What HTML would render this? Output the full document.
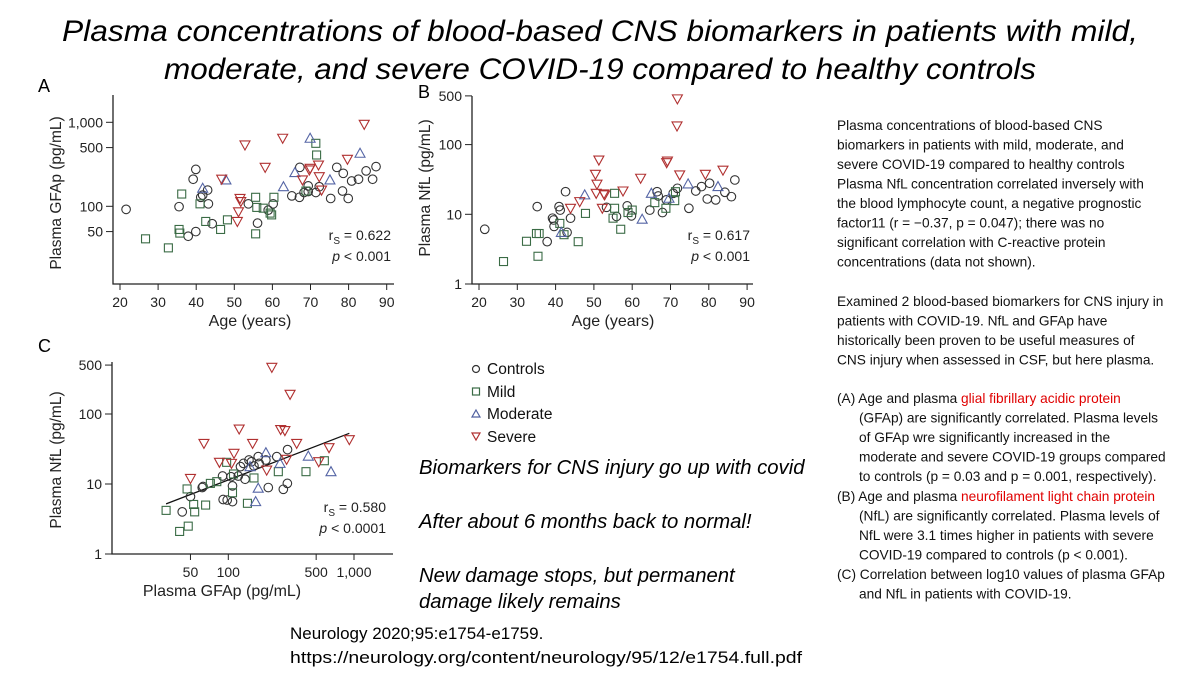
<!DOCTYPE html>
<html><head><meta charset="utf-8"><style>
html,body{margin:0;padding:0;background:#fff;}
svg{display:block;font-family:"Liberation Sans",sans-serif;}
</style></head><body>
<svg id="s" width="1200" height="675" viewBox="0 0 1200 675">
<g font-style="italic" font-size="30" text-anchor="middle" fill="#000">
<text x="600" y="41" textLength="1076" lengthAdjust="spacingAndGlyphs">Plasma concentrations of blood-based CNS biomarkers in patients with mild,</text>
<text x="600" y="79" textLength="872" lengthAdjust="spacingAndGlyphs">moderate, and severe COVID-19 compared to healthy controls</text>
</g>
<g font-size="18" fill="#000">
<text x="38" y="92">A</text>
<text x="418" y="98">B</text>
<text x="38" y="352">C</text>
</g>
<g id="pa"></g>
<g id="pb"></g>
<g id="pc"></g>
<g font-size="15.5" fill="#111">
<circle cx="476" cy="369" r="3.5" fill="none" stroke="#333" stroke-width="1.2"/>
<text x="487" y="374">Controls</text>
<rect x="472.5" y="388" width="7" height="7" fill="none" stroke="#3a6b45" stroke-width="1.2"/>
<text x="487" y="397">Mild</text>
<path d="M476,410 L480,417 L472,417 Z" fill="none" stroke="#5060a0" stroke-width="1.2"/>
<text x="487" y="419">Moderate</text>
<path d="M472,433 L480,433 L476,440 Z" fill="none" stroke="#b03030" stroke-width="1.2"/>
<text x="487" y="442">Severe</text>
</g>
<g font-style="italic" font-size="20.3" fill="#000">
<text x="419" y="474">Biomarkers for CNS injury go up with covid</text>
<text x="419" y="528">After about 6 months back to normal!</text>
<text x="419" y="582">New damage stops, but permanent</text>
<text x="419" y="608">damage likely remains</text>
</g>
<g font-size="17" fill="#000">
<text x="290" y="639">Neurology 2020;95:e1754-e1759.</text>
<text x="290" y="663" textLength="512" lengthAdjust="spacingAndGlyphs">https://neurology.org/content/neurology/95/12/e1754.full.pdf</text>
</g>
<g font-size="13.7" fill="#111">
<text x="837" y="130">Plasma concentrations of blood-based CNS</text>
<text x="837" y="149.5">biomarkers in patients with mild, moderate, and</text>
<text x="837" y="169">severe COVID-19 compared to healthy controls</text>
<text x="837" y="188.5">Plasma NfL concentration correlated inversely with</text>
<text x="837" y="208">the blood lymphocyte count, a negative prognostic</text>
<text x="837" y="227.5">factor11 (r = −0.37, p = 0.047); there was no</text>
<text x="837" y="247">significant correlation with C-reactive protein</text>
<text x="837" y="266.5">concentrations (data not shown).</text>
<text x="837" y="306">Examined 2 blood-based biomarkers for CNS injury in</text>
<text x="837" y="325.5">patients with COVID-19. NfL and GFAp have</text>
<text x="837" y="345">historically been proven to be useful measures of</text>
<text x="837" y="364.5">CNS injury when assessed in CSF, but here plasma.</text>
<text x="837" y="403">(A) Age and plasma <tspan fill="#e00000">glial fibrillary acidic protein</tspan></text>
<text x="859" y="422.5">(GFAp) are significantly correlated. Plasma levels</text>
<text x="859" y="442">of GFAp wre significantly increased in the</text>
<text x="859" y="461.5">moderate and severe COVID-19 groups compared</text>
<text x="859" y="481">to controls (p = 0.03 and p = 0.001, respectively).</text>
<text x="837" y="501">(B) Age and plasma <tspan fill="#e00000">neurofilament light chain protein</tspan></text>
<text x="859" y="520.5">(NfL) are significantly correlated. Plasma levels of</text>
<text x="859" y="540">NfL were 3.1 times higher in patients with severe</text>
<text x="859" y="559.5">COVID-19 compared to controls (p &lt; 0.001).</text>
<text x="837" y="579">(C) Correlation between log10 values of plasma GFAp</text>
<text x="859" y="598.5">and NfL in patients with COVID-19.</text>
</g>
</svg>
<script>
// ---- Panel A data: age vs GFAp ----
const aCtrlAge=[21.6,35.5,37.9,39.9,39.2,39.9,41.2,41.7,43.0,43.2,44.2,53.7,56.1,58.9,60.2,65.1,67.1,67.2,68.3,69.4,69.4,71.4,72.3,75.3,76.9,78.6,78.4,79.9,80.8,82.6,84.6,86.3,87.2];
const aCtrlVal=[92,99,44,50,210,275,128,136,156,107,62,107,63,90,107,133,128,291,146,175,150,146,171,124,291,247,152,124,200,210,264,210,297];
const aMildAge=[26.7,32.7,35.5,35.7,36.2,41.0,42.5,46.4,48.2,55.6,55.6,55.9,57.6,59.4,59.8,60.4,68.8,71.4,71.6];
const aMildVal=[41,32,53,48,140,107,66,53,69,128,47,97,95,83,79,128,152,562,408];
const aModAge=[41.7,47.8,62.9,65.9,69.9,75.1,83.0];
const aModVal=[164,206,171,252,646,206,428];
const aSevAge=[46.7,50.8,51.1,51.5,51.7,52.8,58.1,62.7,67.9,69.9,69.7,72.1,72.3,72.9,79.7,84.1];
const aSevVal=[210,66,86,124,114,537,291,646,206,283,271,310,225,156,363,946];
const aXTicks=[20,30,40,50,60,70,80,90];
const aYTicks=[1000,500,100,50];
const aYTickLabels=["1,000","500","100","50"];
// ---- Panel B data: age vs NfL ----
const bCtrlAge=[21.5,35.2,37.8,39.2,39.5,39.6,40.9,41.2,42.6,43.0,43.9,53.3,55.9,58.7,59.8,64.6,66.5,66.8,67.9,68.9,70.7,71.8,74.8,76.6,78.1,79.6,80.2,81.8,84.2,85.9,86.8];
const bCtrlVal=[6.1,12.9,4.05,8.8,8.3,6.7,12.9,11.5,21.1,5.5,8.8,12.6,9.3,13.2,9.5,11.5,21.1,18.3,10.6,16.1,20,23.6,12.2,21.6,25,16.6,27.9,16.1,20.7,17.9,31.1];
const bMildAge=[26.4,32.4,35.0,35.7,35.4,41.1,42.2,45.9,47.8,55.4,55.4,55.0,57.0,58.9,60.0,65.9,68.8,71.1,71.3];
const bMildVal=[2.1,4.1,5.3,5.3,2.5,7.4,5.1,4.05,10.3,20,12.2,8.8,6.1,10.6,11.5,14.7,12.2,15.7,21.1];
const bModAge=[41.5,47.6,62.6,65.0,69.6,74.6,82.4];
const bModVal=[5.5,19,8.5,20,17,27.3,25];
const bSevAge=[43.9,46.3,50.4,50.8,51.3,50.6,52.6,52.8,52.2,57.6,62.2,69.2,69.0,71.7,71.8,72.4,79.1,83.7];
const bSevVal=[12.2,15.2,37.5,27,60,20,19.6,19,12.2,21.6,32.9,58,55,185,453,36.7,37.5,43];
const bXTicks=[20,30,40,50,60,70,80,90];
const bYTicks=[1,10,100,500];
const bYTickLabels=["1","10","100","500"];
// ---- Panel C data: GFAp vs NfL ----
const cCtrlX=[43,50,62,63,91,98,108,108,90,105,120,125,132,136,146,153,160,176,173,199,208,243,274,295,296];
const cCtrlY=[4.0,6.6,8.9,9.2,6.0,5.9,5.6,9.4,13,12.7,13,17.7,19.7,11.7,22,20.8,18.1,19.7,24.6,22,8.9,24.6,8.4,10.2,31];
const cMildX=[32,41,48,47,53,54,66,72,81,97,108,110,142,160,250,415,581];
const cMildY=[4.2,2.1,2.5,8.5,5.1,4.0,5.0,10.2,10.8,20.4,7.5,13.9,5.3,12.2,15,15,21.5];
const cModX=[173,165,199,258,433,656,149];
const cModY=[8.7,5.6,28,19.7,25,15,17.7];
const cSevX=[50,64,85,106,111,122,156,222,261,282,310,350,524,633,918,202,291];
const cSevY=[12,38,20.4,19.7,27.4,61,38,464,60,58,191,38,20.8,33,43,15.8,22.5];
const cFitX=[32,918];
const cFitY=[5.2,53];
const cXTicks=[50,100,500,1000];
const cXTickLabels=["50","100","500","1,000"];
const cYTicks=[1,10,100,500];
const cYTickLabels=["1","10","100","500"];

const NS='http://www.w3.org/2000/svg';
const COL={ctrl:'#333',mild:'#3a6b45',mod:'#5565a5',sev:'#b03030'};
function mk(parent,tag,attrs){const e=document.createElementNS(NS,tag);for(const k in attrs)e.setAttribute(k,attrs[k]);parent.appendChild(e);return e;}
function marker(g,kind,x,y){
  let e;
  if(kind==='ctrl'){e=mk(g,'circle',{cx:x,cy:y,r:4.3,fill:'none',stroke:COL.ctrl,'stroke-width':1.1});}
  else if(kind==='mild'){e=mk(g,'rect',{x:x-4,y:y-4,width:8,height:8,fill:'none',stroke:COL.mild,'stroke-width':1.1});}
  else if(kind==='mod'){e=mk(g,'path',{d:`M${x},${y-5} L${x+5},${y+4} L${x-5},${y+4} Z`,fill:'none',stroke:COL.mod,'stroke-width':1.1});}
  else {e=mk(g,'path',{d:`M${x-5},${y-4} L${x+5},${y-4} L${x},${y+5} Z`,fill:'none',stroke:COL.sev,'stroke-width':1.1});}
  
  
}
function series(g,kind,xs,ys,fx,fy){for(let i=0;i<xs.length;i++)marker(g,kind,fx(xs[i]),fy(ys[i]));}
function axes(g,o){
  const ax=mk(g,'path',{d:`M${o.x0},${o.yTop} L${o.x0},${o.y0} L${o.x1},${o.y0}`,fill:'none',stroke:'#222','stroke-width':1.3});
  
  
  o.xt.forEach((v,i)=>{const x=o.fx(v);mk(g,'line',{x1:x,y1:o.y0,x2:x,y2:o.y0+6,stroke:'#222'});
    const t=mk(g,'text',{x:x,y:o.y0+23,'font-size':14,'text-anchor':'middle',fill:'#222'});t.textContent=o.xl[i];
    
    });
  o.yt.forEach((v,i)=>{const y=o.fy(v);mk(g,'line',{x1:o.x0-7,y1:y,x2:o.x0,y2:y,stroke:'#222'});
    const t=mk(g,'text',{x:o.x0-10,y:y+5,'font-size':14,'text-anchor':'end',fill:'#222'});t.textContent=o.yl[i];
    
    });
  const xt=mk(g,'text',{x:o.xtx,y:o.y0+42,'font-size':16,'text-anchor':'middle',fill:'#222'});xt.textContent=o.xtitle;
  
  
  const yt=mk(g,'text',{x:0,y:0,'font-size':15.5,'text-anchor':'middle',fill:'#222',transform:`translate(${o.ytx},${o.yty}) rotate(-90)`});yt.textContent=o.ytitle;
  
  
  const r=mk(g,'text',{x:o.sx,y:o.sy,'font-size':14,'text-anchor':'end',fill:'#222'});
  r.innerHTML=`r<tspan font-size="10" dy="4">S</tspan><tspan dy="-4"> = ${o.rs}</tspan>`;
  
  
  const p=mk(g,'text',{x:o.sx,y:o.sy+21,'font-size':14,'text-anchor':'end',fill:'#222'});
  p.innerHTML=`<tspan font-style="italic">p</tspan> &lt; ${o.pv}`;
  
  
}
const L=Math.log10;
// Panel A
const xA=a=>120+(a-20)*3.81, yA=v=>206.3-84*L(v/100);
const ga=document.getElementById('pa');
axes(ga,{x0:113,x1:394,y0:284,yTop:95,fx:xA,fy:yA,xt:aXTicks,xl:aXTicks.map(String),yt:aYTicks,yl:aYTickLabels,
  xtitle:'Age (years)',xtx:250,ytitle:'Plasma GFAp (pg/mL)',ytx:61,yty:193,rs:'0.622',pv:'0.001',sx:391,sy:240});
series(ga,'ctrl',aCtrlAge,aCtrlVal,xA,yA);series(ga,'mild',aMildAge,aMildVal,xA,yA);
series(ga,'mod',aModAge,aModVal,xA,yA);series(ga,'sev',aSevAge,aSevVal,xA,yA);
// Panel B
const xB=a=>479+(a-20)*3.83, yB=v=>284-69.7*L(v);
const gb=document.getElementById('pb');
axes(gb,{x0:472,x1:753,y0:284,yTop:96,fx:xB,fy:yB,xt:bXTicks,xl:bXTicks.map(String),yt:bYTicks,yl:bYTickLabels,
  xtitle:'Age (years)',xtx:613,ytitle:'Plasma NfL (pg/mL)',ytx:430,yty:188,rs:'0.617',pv:'0.001',sx:750,sy:240});
series(gb,'ctrl',bCtrlAge,bCtrlVal,xB,yB);series(gb,'mild',bMildAge,bMildVal,xB,yB);
series(gb,'mod',bModAge,bModVal,xB,yB);series(gb,'sev',bSevAge,bSevVal,xB,yB);
// Panel C
const xC=v=>228.3+125.7*L(v/100), yC=v=>554-70*L(v);
const gc=document.getElementById('pc');
axes(gc,{x0:112,x1:393,y0:554,yTop:362,fx:xC,fy:yC,xt:cXTicks,xl:cXTickLabels,yt:cYTicks,yl:cYTickLabels,
  xtitle:'Plasma GFAp (pg/mL)',xtx:222,ytitle:'Plasma NfL (pg/mL)',ytx:61,yty:460,rs:'0.580',pv:'0.0001',sx:386,sy:512});
const fit=mk(gc,'line',{x1:xC(cFitX[0]),y1:yC(cFitY[0]),x2:xC(cFitX[1]),y2:yC(cFitY[1]),stroke:'#111','stroke-width':1.3});


series(gc,'ctrl',cCtrlX,cCtrlY,xC,yC);series(gc,'mild',cMildX,cMildY,xC,yC);
series(gc,'mod',cModX,cModY,xC,yC);series(gc,'sev',cSevX,cSevY,xC,yC);
</script>
</body></html>
